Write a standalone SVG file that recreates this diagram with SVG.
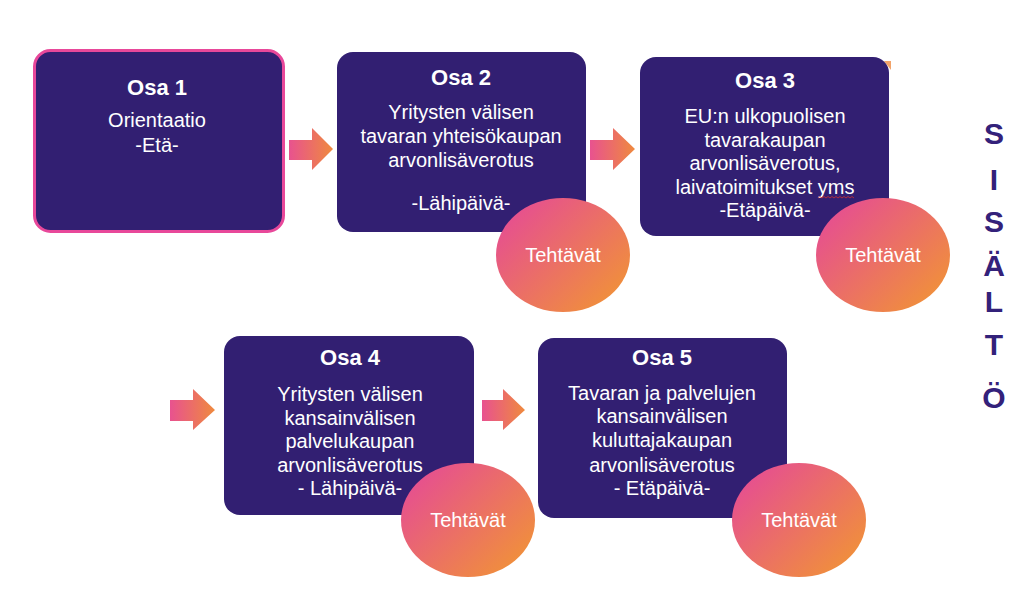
<svg xmlns="http://www.w3.org/2000/svg" width="1024" height="591" viewBox="0 0 1024 591">
<defs>
<linearGradient id="gArrow" x1="0" y1="0" x2="1" y2="0">
<stop offset="0" stop-color="#e8528f"/>
<stop offset="1" stop-color="#ef8a3e"/>
</linearGradient>
<linearGradient id="gOval" x1="0.1" y1="0.15" x2="0.9" y2="0.85">
<stop offset="0" stop-color="#e6508f"/>
<stop offset="1" stop-color="#f08f3c"/>
</linearGradient>
<style>
.box{fill:#321f72;}
.t{font-family:"Liberation Sans",Arial,sans-serif;fill:#ffffff;text-anchor:middle;font-size:20px;}
.h{font-weight:bold;font-size:22px;}
.oval{fill:url(#gOval);}
.arrow{fill:url(#gArrow);}
.side{font-family:"Liberation Sans",Arial,sans-serif;font-weight:bold;font-size:30px;fill:#33217a;text-anchor:middle;}
</style>
</defs>
<rect width="1024" height="591" fill="#ffffff"/>

<g id="connectors">
<polygon class="arrow" points="289,140 312,140 312,128 333,149 312,170 312,160 289,160"/>
<polygon class="arrow" points="590,140 613,140 613,128 635,149 613,170 613,160 590,160"/>
<polygon class="arrow" points="170,400 193,400 193,389 215,410 193,430 193,421 170,421"/>
<polygon class="arrow" points="482,400 503,400 503,389 525,410 503,430 503,421 482,421"/>
<polygon points="884,61 891,61 891,70" fill="#f2a36a"/>
</g>

<g id="osa1">
<rect class="box" x="34.5" y="50.5" width="249" height="181" rx="16" stroke="#e8489a" stroke-width="3"/>
<text class="t h" x="157" y="95">Osa 1</text>
<text class="t" x="157" y="127">Orientaatio</text>
<text class="t" x="157" y="152">-Etä-</text>
</g>

<g id="osa2">
<rect class="box" x="337" y="52" width="249" height="180" rx="16"/>
<text class="t h" x="461" y="85">Osa 2</text>
<text class="t" x="461" y="119">Yritysten välisen</text>
<text class="t" x="461" y="143">tavaran yhteisökaupan</text>
<text class="t" x="461" y="167">arvonlisäverotus</text>
<text class="t" x="461" y="210">-Lähipäivä-</text>
</g>
<g id="tehtavat2">
<ellipse class="oval" cx="563" cy="255" rx="67" ry="57"/>
<text class="t" x="563" y="262">Tehtävät</text>
</g>

<g id="osa3">
<rect class="box" x="640" y="57" width="249" height="179" rx="16"/>
<text class="t h" x="765" y="88">Osa 3</text>
<text class="t" x="765" y="123">EU:n ulkopuolisen</text>
<text class="t" x="765" y="147">tavarakaupan</text>
<text class="t" x="765" y="170">arvonlisäverotus,</text>
<text class="t" x="765" y="194">laivatoimitukset yms</text>
<text class="t" x="765" y="217">-Etäpäivä-</text>
<path d="M818,198 l2,-1.5 l2,1.5 l2,-1.5 l2,1.5 l2,-1.5 l2,1.5 l2,-1.5 l2,1.5 l2,-1.5 l2,1.5 l2,-1.5 l2,1.5 l2,-1.5 l2,1.5 l2,-1.5 l2,1.5 l2,-1.5 l2,1.5" fill="none" stroke="#d03030" stroke-width="0.8"/>
</g>
<g id="tehtavat3">
<ellipse class="oval" cx="883" cy="255" rx="67" ry="57"/>
<text class="t" x="883" y="262">Tehtävät</text>
</g>

<g id="osa4">
<rect class="box" x="224" y="336" width="250" height="179" rx="16"/>
<text class="t h" x="350" y="365">Osa 4</text>
<text class="t" x="350" y="401">Yritysten välisen</text>
<text class="t" x="350" y="425">kansainvälisen</text>
<text class="t" x="350" y="448">palvelukaupan</text>
<text class="t" x="350" y="472">arvonlisäverotus</text>
<text class="t" x="350" y="495">- Lähipäivä-</text>
</g>
<g id="tehtavat4">
<ellipse class="oval" cx="468" cy="520" rx="67" ry="57"/>
<text class="t" x="468" y="527">Tehtävät</text>
</g>

<g id="osa5">
<rect class="box" x="538" y="338" width="249" height="180" rx="16"/>
<text class="t h" x="662" y="365">Osa 5</text>
<text class="t" x="662" y="400">Tavaran ja palvelujen</text>
<text class="t" x="662" y="423">kansainvälisen</text>
<text class="t" x="662" y="447">kuluttajakaupan</text>
<text class="t" x="662" y="472">arvonlisäverotus</text>
<text class="t" x="662" y="495">- Etäpäivä-</text>
</g>
<g id="tehtavat5">
<ellipse class="oval" cx="799" cy="520" rx="67" ry="57"/>
<text class="t" x="799" y="527">Tehtävät</text>
</g>

<g id="sisalto">
<text class="side" x="994" y="144">S</text>
<text class="side" x="994" y="190">I</text>
<text class="side" x="994" y="232">S</text>
<text class="side" x="994" y="276">Ä</text>
<text class="side" x="994" y="312">L</text>
<text class="side" x="994" y="355">T</text>
<text class="side" x="994" y="408">Ö</text>
</g>
</svg>
